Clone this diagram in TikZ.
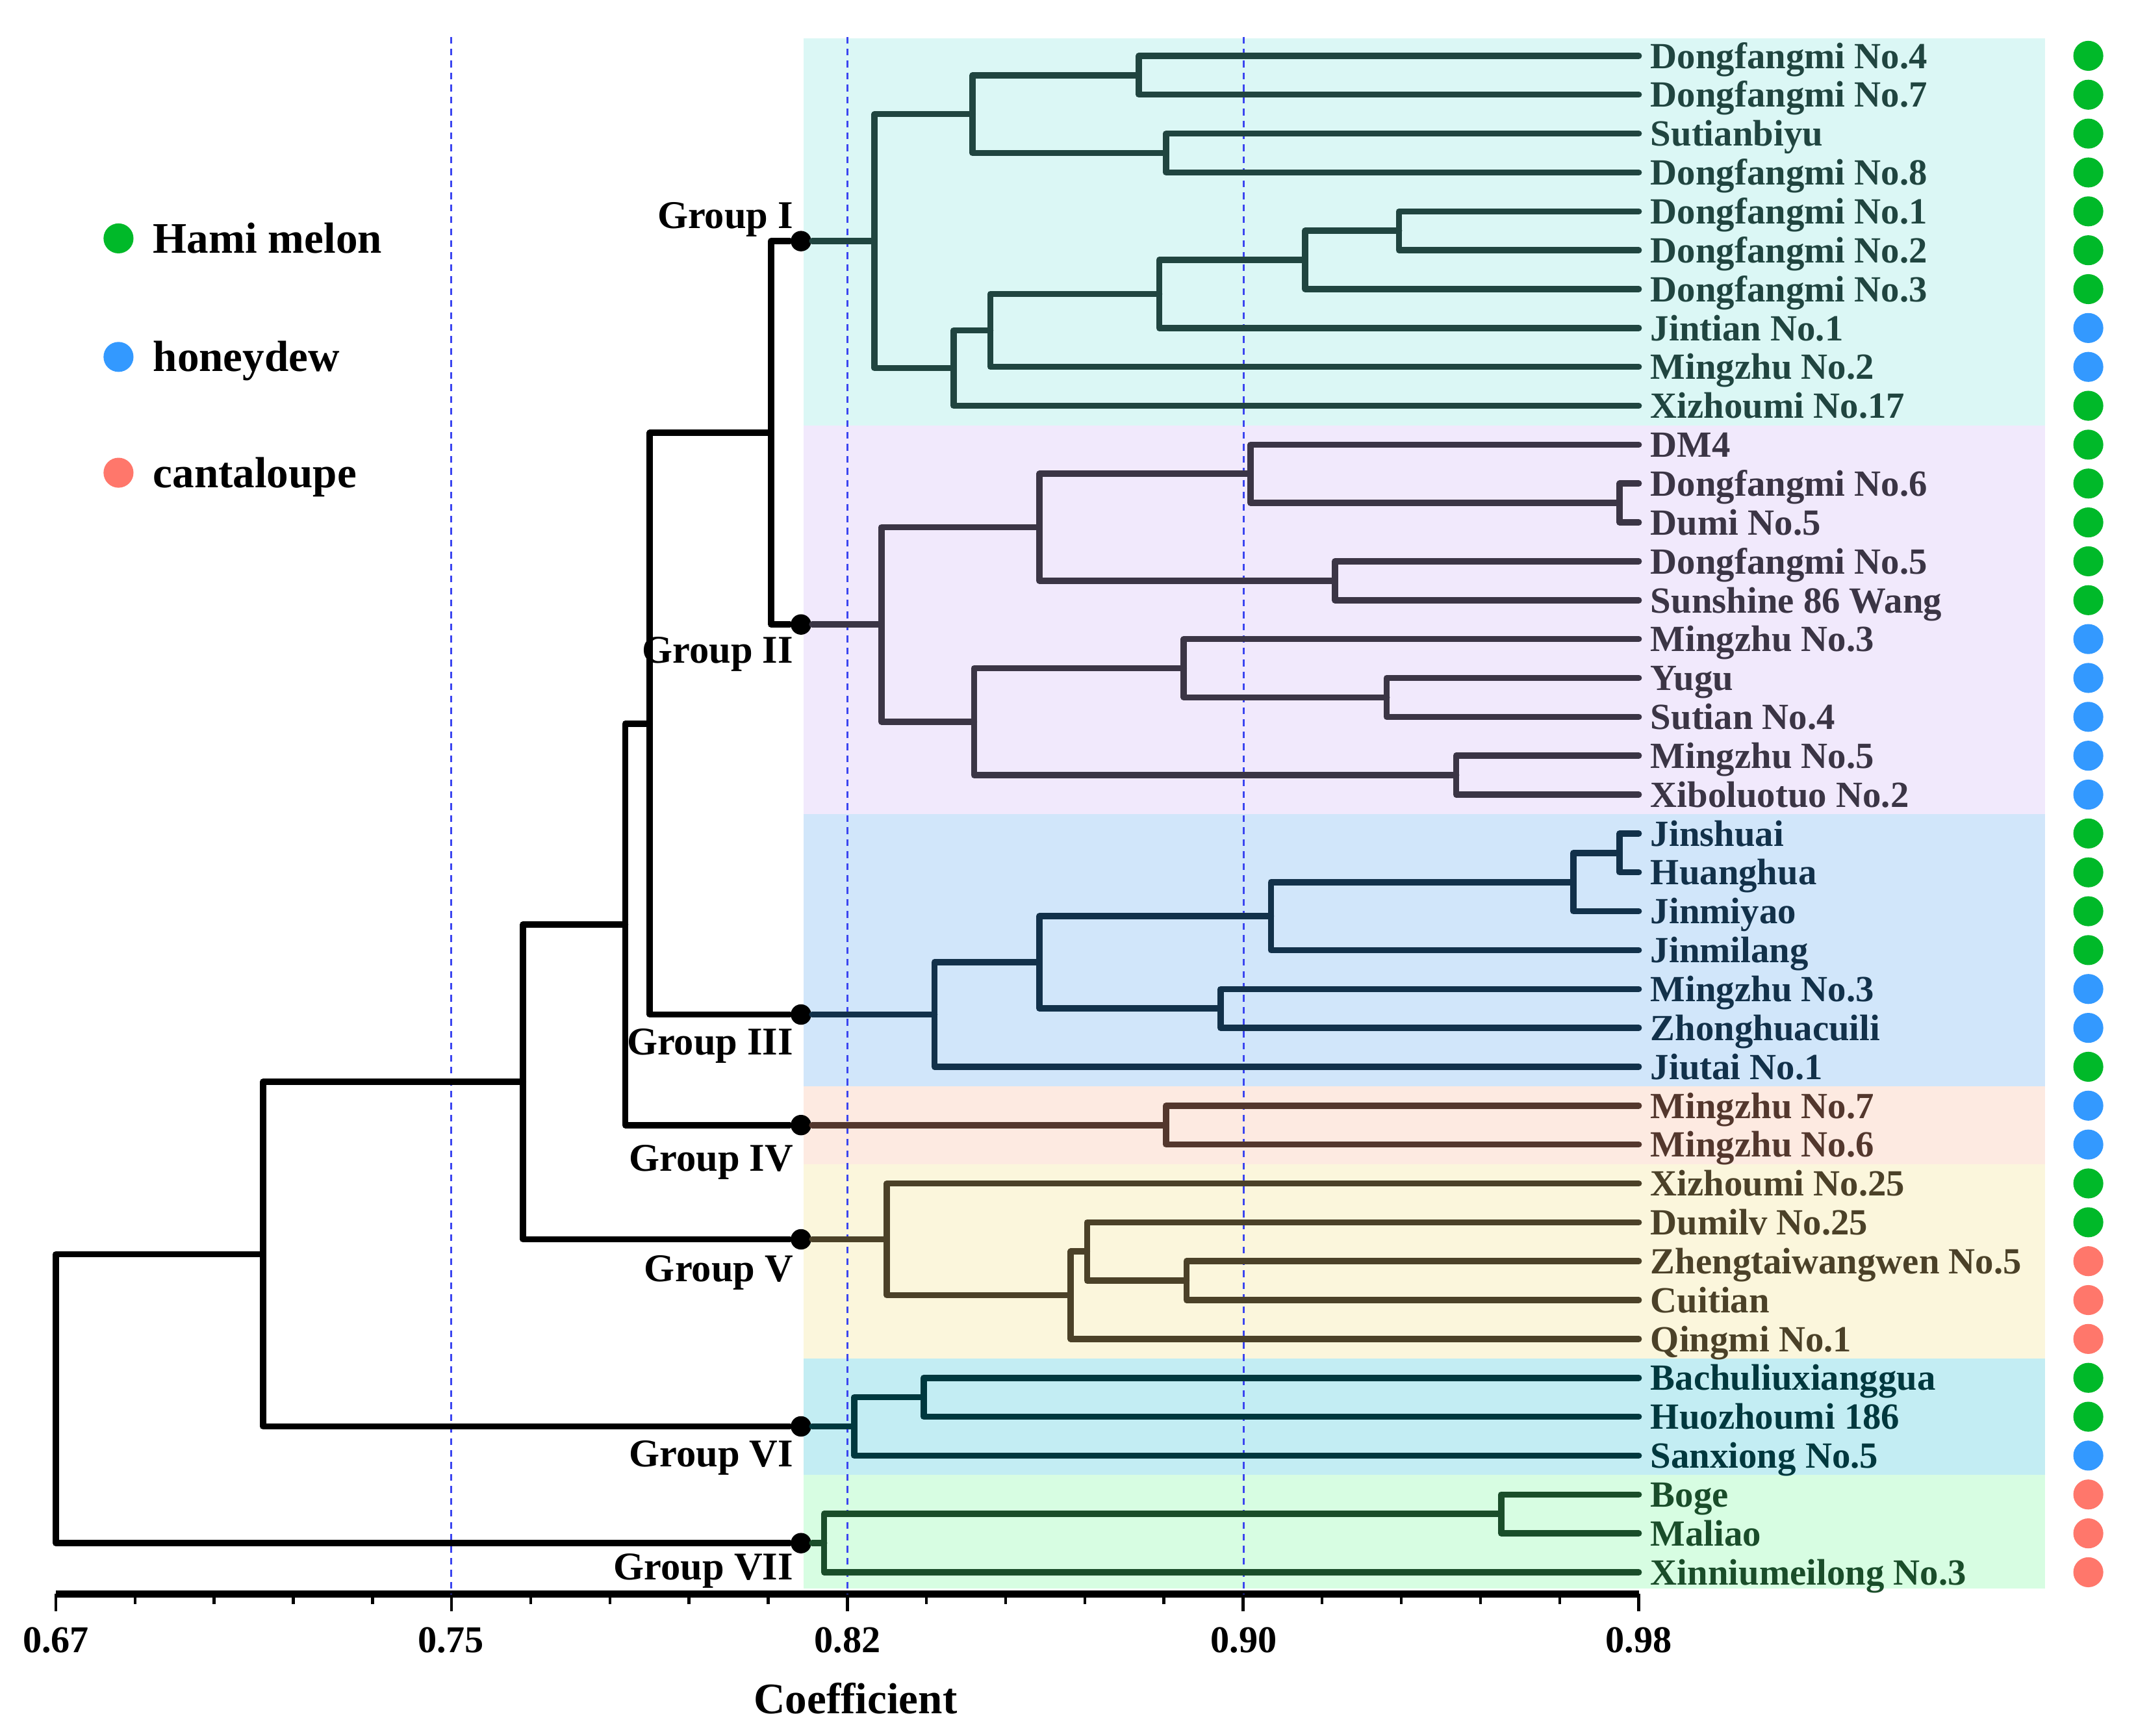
\documentclass[tikz,border=0pt]{standalone}
\usepackage{fontspec}
\setmainfont{Liberation Serif}
\usetikzlibrary{positioning,calc}

\definecolor{lineI}{HTML}{204540}
\definecolor{lineII}{HTML}{3B3545}
\definecolor{lineIII}{HTML}{12314A}
\definecolor{lineIV}{HTML}{53372D}
\definecolor{lineV}{HTML}{4B4128}
\definecolor{lineVI}{HTML}{00383E}
\definecolor{lineVII}{HTML}{1A4D2A}
\definecolor{bandI}{HTML}{DBF7F5}
\definecolor{bandII}{HTML}{F1E9FC}
\definecolor{bandIII}{HTML}{D1E6FA}
\definecolor{bandIV}{HTML}{FDEAE1}
\definecolor{bandV}{HTML}{FBF6DC}
\definecolor{bandVI}{HTML}{C3EDF3}
\definecolor{bandVII}{HTML}{D7FDE2}
\definecolor{hami}{HTML}{00B929}
\definecolor{honeydew}{HTML}{3399FF}
\definecolor{cantaloupe}{HTML}{FF776B}
\definecolor{refblue}{HTML}{3B45F0}

\tikzset{
	branch/.style     = {line width=1.3pt, line join=round, line cap=round},
	backbone/.style   = {branch, black},
	hidden/.style     = {coordinate},
	leaf/.style       = {anchor=west, inner xsep=0.08cm, inner ysep=0pt, text height=5.2pt, text depth=0pt, font=\fontsize{7.7}{8}\selectfont\bfseries},
	groupdot/.style   = {circle, fill=black, inner sep=0pt, minimum size=0.15cm},
	grouplabel/.style = {anchor=east, inner sep=0pt, font=\fontsize{8.2}{9}\selectfont\bfseries},
	typedot/.style    = {circle, inner sep=0pt, minimum size=0.22cm},
	legendtext/.style = {inner sep=0pt, text height=6.1pt, text depth=0pt, font=\fontsize{9.1}{10}\selectfont\bfseries},
	cutoff/.style     = {refblue, line width=0.4pt, dash pattern=on 1.4pt off 1.1pt},
	ticklabel/.style  = {inner sep=0pt, font=\fontsize{7.9}{8}\selectfont\bfseries},
}

\begin{document}
\begin{tikzpicture}[x=0.01cm, y=-0.01cm]
	\useasboundingbox (0,0) rectangle (1568,1274);

	% Coloured group bands
	\fill[bandI]   (590,28)     rectangle (1501,312.15);
	\fill[bandII]  (590,312.15) rectangle (1501,597.55);
	\fill[bandIII] (590,597.55) rectangle (1501,797.3);
	\fill[bandIV]  (590,797.3)  rectangle (1501,854.4);
	\fill[bandV]   (590,854.4)  rectangle (1501,997.1);
	\fill[bandVI]  (590,997.1)  rectangle (1501,1082.7);
	\fill[bandVII] (590,1082.7) rectangle (1501,1166);

	% Axis
	\coordinate (axisL) at (41,1170);
	\coordinate (axisR) at (1203,1170);
	\draw[line width=1.5pt] (axisL) -- (axisR);
	\foreach \t in {0,...,20}
		\draw[line width=0.6pt] ($(axisL)!\t/20!(axisR)$) -- ++(0,7.5);
	\foreach \t in {0,5,...,20}
		\draw[line width=0.6pt] ($(axisL)!\t/20!(axisR)$) -- ++(0,12.5);
	\node[ticklabel] (t067) at (41,1204)   {0.67};
	\node[ticklabel] (t075) at (331,1204)  {0.75};
	\node[ticklabel] (t082) at (622,1204)  {0.82};
	\node[ticklabel] (t090) at (913,1204)  {0.90};
	\node[ticklabel] (t098) at (1203,1204) {0.98};
	\node[legendtext] (xtitle) at (628,1247) {Coefficient};

	% Dashed cut-off lines
	\node[hidden] (cut1) at (331,27) {};
	\node[hidden] (cut2) at (622,27) {};
	\node[hidden] (cut3) at (913,27) {};
	\draw[cutoff] (cut1) -- (cut1 |- axisL);
	\draw[cutoff] (cut2) -- (cut2 |- axisL);
	\draw[cutoff] (cut3) -- (cut3 |- axisL);

	% Leaves
	\node[leaf, lineI] (l1)  at (1203,41.0)  {Dongfangmi No.4};
	\node[leaf, lineI] (l2)  at (1203,69.5)  {Dongfangmi No.7};
	\node[leaf, lineI] (l3)  at (1203,98.1)  {Sutianbiyu};
	\node[leaf, lineI] (l4)  at (1203,126.6) {Dongfangmi No.8};
	\node[leaf, lineI] (l5)  at (1203,155.2) {Dongfangmi No.1};
	\node[leaf, lineI] (l6)  at (1203,183.7) {Dongfangmi No.2};
	\node[leaf, lineI] (l7)  at (1203,212.2) {Dongfangmi No.3};
	\node[leaf, lineI] (l8)  at (1203,240.8) {Jintian No.1};
	\node[leaf, lineI] (l9)  at (1203,269.3) {Mingzhu No.2};
	\node[leaf, lineI] (l10) at (1203,297.9) {Xizhoumi No.17};
	\node[leaf, lineII] (l11) at (1203,326.4) {DM4};
	\node[leaf, lineII] (l12) at (1203,354.9) {Dongfangmi No.6};
	\node[leaf, lineII] (l13) at (1203,383.5) {Dumi No.5};
	\node[leaf, lineII] (l14) at (1203,412.0) {Dongfangmi No.5};
	\node[leaf, lineII] (l15) at (1203,440.6) {Sunshine 86 Wang};
	\node[leaf, lineII] (l16) at (1203,469.1) {Mingzhu No.3};
	\node[leaf, lineII] (l17) at (1203,497.6) {Yugu};
	\node[leaf, lineII] (l18) at (1203,526.2) {Sutian No.4};
	\node[leaf, lineII] (l19) at (1203,554.7) {Mingzhu No.5};
	\node[leaf, lineII] (l20) at (1203,583.3) {Xiboluotuo No.2};
	\node[leaf, lineIII] (l21) at (1203,611.8) {Jinshuai};
	\node[leaf, lineIII] (l22) at (1203,640.3) {Huanghua};
	\node[leaf, lineIII] (l23) at (1203,668.9) {Jinmiyao};
	\node[leaf, lineIII] (l24) at (1203,697.4) {Jinmilang};
	\node[leaf, lineIII] (l25) at (1203,726.0) {Mingzhu No.3};
	\node[leaf, lineIII] (l26) at (1203,754.5) {Zhonghuacuili};
	\node[leaf, lineIII] (l27) at (1203,783.0) {Jiutai No.1};
	\node[leaf, lineIV] (l28) at (1203,811.6) {Mingzhu No.7};
	\node[leaf, lineIV] (l29) at (1203,840.1) {Mingzhu No.6};
	\node[leaf, lineV] (l30) at (1203,868.7) {Xizhoumi No.25};
	\node[leaf, lineV] (l31) at (1203,897.2) {Dumilv No.25};
	\node[leaf, lineV] (l32) at (1203,925.7) {Zhengtaiwangwen No.5};
	\node[leaf, lineV] (l33) at (1203,954.3) {Cuitian};
	\node[leaf, lineV] (l34) at (1203,982.8) {Qingmi No.1};
	\node[leaf, lineVI] (l35) at (1203,1011.4) {Bachuliuxianggua};
	\node[leaf, lineVI] (l36) at (1203,1039.9) {Huozhoumi 186};
	\node[leaf, lineVI] (l37) at (1203,1068.4) {Sanxiong No.5};
	\node[leaf, lineVII] (l38) at (1203,1097.0) {Boge};
	\node[leaf, lineVII] (l39) at (1203,1125.5) {Maliao};
	\node[leaf, lineVII] (l40) at (1203,1154.1) {Xinniumeilong No.3};

	% Melon type of every leaf
	\foreach \i/\kind in {1/hami,2/hami,3/hami,4/hami,5/hami,6/hami,7/hami,8/honeydew,9/honeydew,10/hami,
		11/hami,12/hami,13/hami,14/hami,15/hami,16/honeydew,17/honeydew,18/honeydew,19/honeydew,20/honeydew,
		21/hami,22/hami,23/hami,24/hami,25/honeydew,26/honeydew,27/hami,28/honeydew,29/honeydew,30/hami,
		31/hami,32/cantaloupe,33/cantaloupe,34/cantaloupe,35/hami,36/hami,37/honeydew,38/cantaloupe,39/cantaloupe,40/cantaloupe}
		\node[typedot, fill=\kind] (k\i) at (1533,{41+28.54*(\i-1)}) {};

	% Group roots
	\node[groupdot] (gI)   at (588,177.0)  {};
	\node[groupdot] (gII)  at (588,458.4)  {};
	\node[groupdot] (gIII) at (588,744.7)  {};
	\node[groupdot] (gIV)  at (588,825.85) {};
	\node[groupdot] (gV)   at (588,909.7)  {};
	\node[groupdot] (gVI)  at (588,1047.0) {};
	\node[groupdot] (gVII) at (588,1132.7) {};
	\node[grouplabel] (tI)   at (583,161)  {Group I};
	\node[grouplabel] (tII)  at (583,480)  {Group II};
	\node[grouplabel] (tIII) at (583,768)  {Group III};
	\node[grouplabel] (tIV)  at (583,853)  {Group IV};
	\node[grouplabel] (tV)   at (583,934)  {Group V};
	\node[grouplabel] (tVI)  at (583,1070) {Group VI};
	\node[grouplabel] (tVII) at (583,1153) {Group VII};

	% Group I
	\node[hidden] (a1) at (836,55.25) {};
	\node[hidden] (a2) at (856,112.35) {};
	\node[hidden] (a3) at (714,83.8) {};
	\node[hidden] (a4) at (1027,169.45) {};
	\node[hidden] (a5) at (958,190.8) {};
	\node[hidden] (a6) at (851,215.8) {};
	\node[hidden] (a7) at (727,242.55) {};
	\node[hidden] (a8) at (700,270.2) {};
	\node[hidden] (ar) at (642,177.0) {};
	\draw[branch, lineI] (l1) -| (a1) |- (l2);
	\draw[branch, lineI] (l3) -| (a2) |- (l4);
	\draw[branch, lineI] (a1) -| (a3) |- (a2);
	\draw[branch, lineI] (l5) -| (a4) |- (l6);
	\draw[branch, lineI] (a4) -| (a5) |- (l7);
	\draw[branch, lineI] (a5) -| (a6) |- (l8);
	\draw[branch, lineI] (a6) -| (a7) |- (l9);
	\draw[branch, lineI] (a7) -| (a8) |- (l10);
	\draw[branch, lineI] (a3) -| (ar) |- (a8);
	\draw[branch, lineI] (ar) -- (gI);

	% Group II
	\node[hidden] (b1) at (1189,369.2) {};
	\node[hidden] (b2) at (918,347.8) {};
	\node[hidden] (b3) at (980,426.3) {};
	\node[hidden] (b4) at (763,387.05) {};
	\node[hidden] (b5) at (1018,511.9) {};
	\node[hidden] (b6) at (869,490.5) {};
	\node[hidden] (b7) at (1069,569.0) {};
	\node[hidden] (b8) at (715,529.75) {};
	\node[hidden] (br) at (647,458.4) {};
	\draw[branch, lineII] (l12) -| (b1) |- (l13);
	\draw[branch, lineII] (l11) -| (b2) |- (b1);
	\draw[branch, lineII] (l14) -| (b3) |- (l15);
	\draw[branch, lineII] (b2) -| (b4) |- (b3);
	\draw[branch, lineII] (l17) -| (b5) |- (l18);
	\draw[branch, lineII] (l16) -| (b6) |- (b5);
	\draw[branch, lineII] (l19) -| (b7) |- (l20);
	\draw[branch, lineII] (b6) -| (b8) |- (b7);
	\draw[branch, lineII] (b4) -| (br) |- (b8);
	\draw[branch, lineII] (br) -- (gII);

	% Group III
	\node[hidden] (c1) at (1189,626.05) {};
	\node[hidden] (c2) at (1155,647.5) {};
	\node[hidden] (c3) at (933,672.45) {};
	\node[hidden] (c4) at (896,740.25) {};
	\node[hidden] (c5) at (763,706.35) {};
	\node[hidden] (cr) at (686,744.7) {};
	\draw[branch, lineIII] (l21) -| (c1) |- (l22);
	\draw[branch, lineIII] (c1) -| (c2) |- (l23);
	\draw[branch, lineIII] (c2) -| (c3) |- (l24);
	\draw[branch, lineIII] (l25) -| (c4) |- (l26);
	\draw[branch, lineIII] (c3) -| (c5) |- (c4);
	\draw[branch, lineIII] (c5) -| (cr) |- (l27);
	\draw[branch, lineIII] (cr) -- (gIII);

	% Group IV
	\node[hidden] (dr) at (856,825.85) {};
	\draw[branch, lineIV] (l28) -| (dr) |- (l29);
	\draw[branch, lineIV] (dr) -- (gIV);

	% Group V
	\node[hidden] (e1) at (871,940.0) {};
	\node[hidden] (e2) at (798,918.6) {};
	\node[hidden] (e3) at (786,950.7) {};
	\node[hidden] (er) at (651,909.7) {};
	\draw[branch, lineV] (l32) -| (e1) |- (l33);
	\draw[branch, lineV] (l31) -| (e2) |- (e1);
	\draw[branch, lineV] (e2) -| (e3) |- (l34);
	\draw[branch, lineV] (l30) -| (er) |- (e3);
	\draw[branch, lineV] (er) -- (gV);

	% Group VI
	\node[hidden] (f1) at (678,1025.65) {};
	\node[hidden] (fr) at (627,1047.0) {};
	\draw[branch, lineVI] (l35) -| (f1) |- (l36);
	\draw[branch, lineVI] (f1) -| (fr) |- (l37);
	\draw[branch, lineVI] (fr) -- (gVI);

	% Group VII
	\node[hidden] (h1) at (1102,1111.25) {};
	\node[hidden] (hr) at (605,1132.7) {};
	\draw[branch, lineVII] (l38) -| (h1) |- (l39);
	\draw[branch, lineVII] (h1) -| (hr) |- (l40);
	\draw[branch, lineVII] (hr) -- (gVII);

	% Join the groups
	\node[hidden] (o1) at (566,317.7) {};
	\node[hidden] (o2) at (477,531.2) {};
	\node[hidden] (o3) at (459,678.5) {};
	\node[hidden] (o4) at (384,794.1) {};
	\node[hidden] (o5) at (193,920.55) {};
	\node[hidden] (o6) at (41,1026.6) {};
	\draw[backbone] (gI) -| (o1) |- (gII);
	\draw[backbone] (o1) -| (o2) |- (gIII);
	\draw[backbone] (o2) -| (o3) |- (gIV);
	\draw[backbone] (o3) -| (o4) |- (gV);
	\draw[backbone] (o4) -| (o5) |- (gVI);
	\draw[backbone] (o5) -| (o6) |- (gVII);

	% Legend
	\node[typedot, fill=hami]       (lgHami)  at (87,175) {};
	\node[typedot, fill=honeydew]   (lgHoney) at (87,262) {};
	\node[typedot, fill=cantaloupe] (lgCanta) at (87,347) {};
	\node[legendtext, right=0.13cm of lgHami]  (lgHamiText)  {Hami melon};
	\node[legendtext, right=0.13cm of lgHoney] (lgHoneyText) {honeydew};
	\node[legendtext, right=0.13cm of lgCanta] (lgCantaText) {cantaloupe};
\end{tikzpicture}
\end{document}
